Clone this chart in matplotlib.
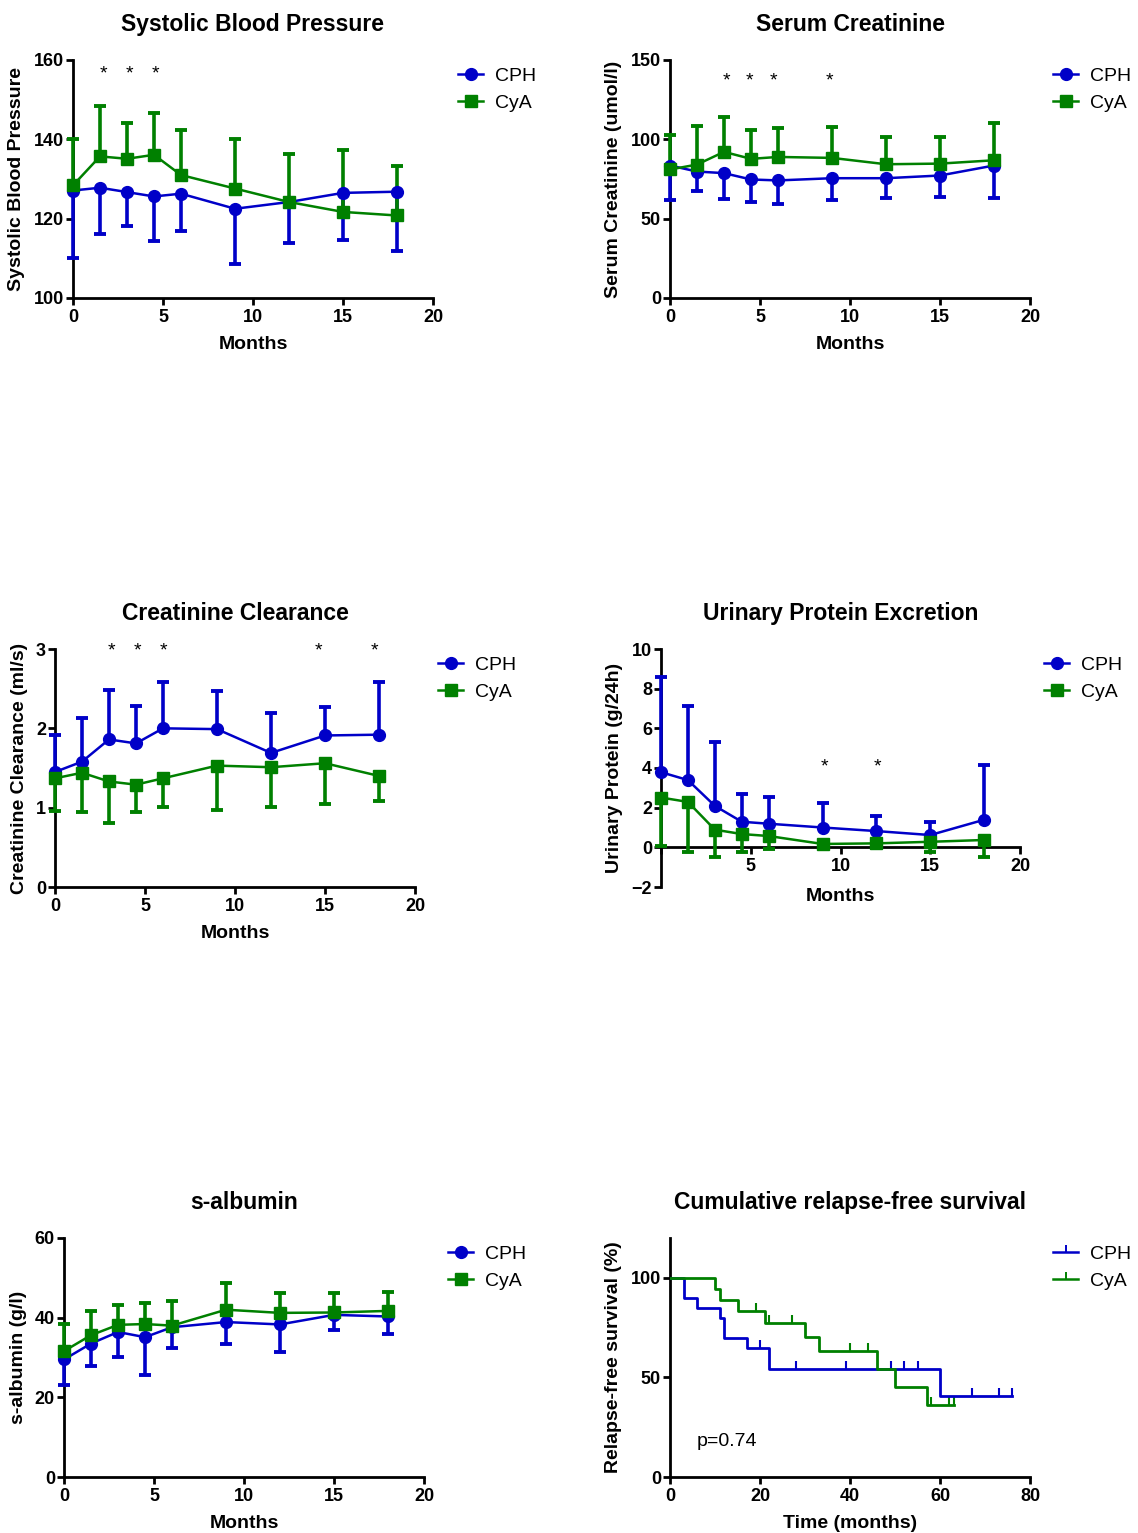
import matplotlib
matplotlib.use("Agg")
import matplotlib.pyplot as plt
import numpy as np

plt.rcParams['font.family'] = ['Liberation Sans', 'DejaVu Sans']

BLUE = '#0000C8'
GREEN = '#008000'

months = [0, 1.5, 3, 4.5, 6, 9, 12, 15, 18]

# systolic blood pressure (mean, one-sided SD end)
sbp_cph = [127.1, 127.8, 126.7, 125.6, 126.3, 122.5, 124.2, 126.5, 126.8]
sbp_cph_err = [110.2, 116.1, 118.2, 114.4, 116.8, 108.5, 113.8, 114.7, 111.9]
sbp_cya = [128.4, 135.7, 135.1, 136.1, 131.0, 127.6, 124.2, 121.7, 120.8]
sbp_cya_err = [140.2, 148.5, 144.0, 146.7, 142.3, 140.2, 136.3, 137.3, 133.4]
sbp_stars = [1.7, 3.15, 4.6]

# serum creatinine
scr_cph = [83.5, 79.7, 78.7, 74.7, 74.1, 75.5, 75.5, 77.2, 83.5]
scr_cph_err = [61.5, 67.4, 62.3, 60.3, 59.2, 61.7, 63.0, 63.6, 63.0]
scr_cya = [81.0, 84.1, 92.1, 87.7, 88.9, 88.3, 84.3, 84.7, 86.8]
scr_cya_err = [102.5, 108.6, 114.2, 105.9, 106.9, 107.7, 101.7, 101.7, 110.0]
scr_stars = [3.15, 4.4, 5.75, 8.85]

# creatinine clearance
ccl_cph = [1.45, 1.58, 1.86, 1.81, 2.00, 1.99, 1.69, 1.91, 1.92]
ccl_cph_err = [1.92, 2.13, 2.48, 2.28, 2.59, 2.47, 2.19, 2.27, 2.58]
ccl_cya = [1.37, 1.44, 1.33, 1.29, 1.37, 1.53, 1.51, 1.56, 1.40]
ccl_cya_err = [0.96, 0.94, 0.81, 0.95, 1.01, 0.97, 1.01, 1.04, 1.08]
ccl_stars = [3.15, 4.6, 6.05, 14.65, 17.75]

# urinary protein
up_cph = [3.79, 3.39, 2.09, 1.29, 1.19, 1.00, 0.82, 0.62, 1.39]
up_cph_err = [8.61, 7.14, 5.33, 2.69, 2.56, 2.24, 1.60, 1.27, 4.16]
up_cya = [2.51, 2.29, 0.89, 0.67, 0.57, 0.17, 0.20, 0.28, 0.37]
up_cya_err = [0.07, -0.22, -0.47, -0.22, -0.08, -0.05, -0.05, -0.22, -0.47]
up_stars = [9.1, 12.05]

# s-albumin
alb_cph = [29.5, 33.5, 36.4, 35.1, 37.6, 38.9, 38.3, 40.7, 40.3]
alb_cph_err = [23.1, 27.9, 30.1, 25.5, 32.3, 33.5, 31.3, 37.0, 35.8]
alb_cya = [31.6, 35.6, 38.2, 38.4, 38.0, 42.0, 41.2, 41.3, 41.7]
alb_cya_err = [38.3, 41.6, 43.3, 43.6, 44.1, 48.7, 46.1, 46.3, 46.5]

# Kaplan-Meier relapse-free survival
km_cph_t = [0, 3, 6, 11, 12, 17, 22, 60, 76]
km_cph_s = [100, 90, 85, 80, 70, 65, 54.2, 40.6, 40.6]
km_cph_cens_t = [20, 28, 39, 49, 52, 55, 67, 73, 76]
km_cph_cens_s = [65, 54.2, 54.2, 54.2, 54.2, 54.2, 40.6, 40.6, 40.6]
km_cya_t = [0, 10, 11, 15, 21, 30, 33, 46, 50, 57, 63]
km_cya_s = [100, 94.4, 88.9, 83.3, 77.4, 70.4, 63.5, 54.3, 45.3, 36.1, 36.1]
km_cya_cens_t = [19, 22, 27, 40, 44, 58, 62, 63]
km_cya_cens_s = [83.3, 77.4, 77.4, 63.5, 63.5, 36.1, 36.1, 36.1]

fig = plt.figure(figsize=(11.38, 15.33), dpi=100)
W, H = 1138, 1533


def make_ax(x0, x1, ytop, ybot):
    return fig.add_axes([x0 / W, 1 - ybot / H, (x1 - x0) / W, (ybot - ytop) / H])


def style(ax, title, ylabel, xlabel='Months'):
    for s in ['top', 'right']:
        ax.spines[s].set_visible(False)
    for s in ['left', 'bottom']:
        ax.spines[s].set_linewidth(2)
    ax.tick_params(width=2, length=5, labelsize=13, direction='out', pad=1.5)
    ax.tick_params(axis='x', pad=3)
    for lab in ax.get_xticklabels() + ax.get_yticklabels():
        lab.set_fontweight('bold')
    ax.set_title(title, fontsize=16.5, fontweight='bold', pad=21)
    ax.set_ylabel(ylabel, fontsize=14, fontweight='bold', labelpad=6)
    ax.set_xlabel(xlabel, fontsize=14, fontweight='bold', labelpad=7)


def add_legend(ax, handles, lx, ly):
    ax.legend(handles=handles, labels=['CPH', 'CyA'], loc='upper left',
              bbox_to_anchor=(lx / W, 1 - ly / H), bbox_transform=fig.transFigure,
              frameon=False, fontsize=14, handlelength=1.3, handletextpad=0.6,
              labelspacing=0.5, borderpad=0, borderaxespad=0, numpoints=1)


def series_panel(ax, cph, cph_err, cya, cya_err, stars, star_y):
    x = np.array(months)
    for y, e, c in [(cph, cph_err, BLUE), (cya, cya_err, GREEN)]:
        ax.vlines(x, y, e, colors=c, lw=2.6, zorder=3, clip_on=False)
        ax.plot(x, e, ls='none', marker='_', ms=8, mew=2.8, color=c, zorder=3, clip_on=False)
    h1, = ax.plot(x, cph, color=BLUE, lw=1.8, marker='o', ms=8.5, clip_on=False, zorder=4)
    h2, = ax.plot(x, cya, color=GREEN, lw=1.8, marker='s', ms=8, clip_on=False, zorder=5)
    for sx in stars:
        ax.text(sx, star_y, '*', ha='center', va='center', fontsize=14)
    ax.set_xlim(0, 20)
    ax.set_xticks([0, 5, 10, 15, 20])
    return [h1, h2]


# Systolic Blood Pressure
ax1 = make_ax(73, 433, 60, 298)
hs = series_panel(ax1, sbp_cph, sbp_cph_err, sbp_cya, sbp_cya_err, sbp_stars, 156.5)
ax1.set_ylim(100, 160)
ax1.set_yticks([100, 120, 140, 160])
style(ax1, 'Systolic Blood Pressure', 'Systolic Blood Pressure')
add_legend(ax1, hs, 458, 67)

# Serum Creatinine
ax2 = make_ax(670, 1030, 60, 298)
hs = series_panel(ax2, scr_cph, scr_cph_err, scr_cya, scr_cya_err, scr_stars, 137)
ax2.set_ylim(0, 150)
ax2.set_yticks([0, 50, 100, 150])
style(ax2, 'Serum Creatinine', 'Serum Creatinine (umol/l)')
add_legend(ax2, hs, 1053, 67)

# Creatinine Clearance
ax3 = make_ax(55, 415, 649, 887)
hs = series_panel(ax3, ccl_cph, ccl_cph_err, ccl_cya, ccl_cya_err, ccl_stars, 2.98)
ax3.set_ylim(0, 3)
ax3.set_yticks([0, 1, 2, 3])
style(ax3, 'Creatinine Clearance', 'Creatinine Clearance (ml/s)')
add_legend(ax3, hs, 438, 656)

# Urinary Protein Excretion
ax4 = make_ax(661, 1020, 649, 887)
hs = series_panel(ax4, up_cph, up_cph_err, up_cya, up_cya_err, up_stars, 4.05)
ax4.set_ylim(-2, 10)
ax4.set_yticks([-2, 0, 2, 4, 6, 8, 10])
ax4.spines['bottom'].set_position(('data', 0))
ax4.set_xticks([0, 5, 10, 15, 20])
ax4.set_xticklabels(['', '5', '10', '15', '20'])
style(ax4, 'Urinary Protein Excretion', 'Urinary Protein (g/24h)')
ax4.xaxis.labelpad = 9
add_legend(ax4, hs, 1044, 656)

# s-albumin
ax5 = make_ax(64, 424, 1238, 1477)
hs = series_panel(ax5, alb_cph, alb_cph_err, alb_cya, alb_cya_err, [], 0)
ax5.set_ylim(0, 60)
ax5.set_yticks([0, 20, 40, 60])
style(ax5, 's-albumin', 's-albumin (g/l)')
add_legend(ax5, hs, 448, 1245)

# Cumulative relapse-free survival
ax6 = make_ax(670, 1030, 1238, 1477)
ax6.step(km_cph_t, km_cph_s, where='post', color=BLUE, lw=2, zorder=3)
ax6.step(km_cya_t, km_cya_s, where='post', color=GREEN, lw=2, zorder=4)
ax6.plot(km_cph_cens_t, km_cph_cens_s, ls='none', marker=2, ms=6, mew=1.5, color=BLUE)
ax6.plot(km_cya_cens_t, km_cya_cens_s, ls='none', marker=2, ms=6, mew=1.5, color=GREEN)
ax6.text(6, 18, 'p=0.74', fontsize=14, ha='left', va='center')
ax6.set_xlim(0, 80)
ax6.set_ylim(0, 120)
ax6.set_xticks([0, 20, 40, 60, 80])
ax6.set_yticks([0, 50, 100])
style(ax6, 'Cumulative relapse-free survival', 'Relapse-free survival (%)', 'Time (months)')
k1, = ax6.plot([], [], color=BLUE, lw=1.8, marker=2, ms=5, mew=1.4)
k2, = ax6.plot([], [], color=GREEN, lw=1.8, marker=2, ms=5, mew=1.4)
add_legend(ax6, [k1, k2], 1053, 1245)

fig.savefig('out.png', dpi=100)
